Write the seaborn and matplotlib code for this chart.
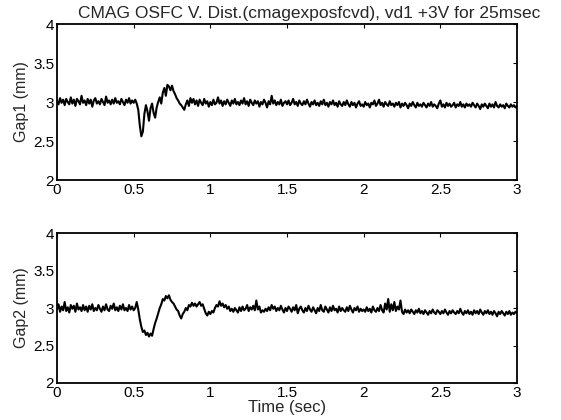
import numpy as np
import pandas as pd
import matplotlib
matplotlib.use("Agg")
import matplotlib.pyplot as plt
import seaborn as sns

time = np.linspace(0.0, 3.0, 301)

gap1 = [
    3.02, 2.97, 3.05, 2.99, 3.03, 2.96, 3.04, 3.00, 2.97, 3.06,
    2.98, 3.03, 2.95, 3.04, 3.01, 2.97, 3.08, 2.99, 3.02, 2.96,
    3.04, 2.98, 3.03, 2.94, 3.02, 3.05, 2.98, 3.01, 2.97, 3.04,
    3.00, 2.96, 3.07, 2.99, 3.02, 2.97, 3.03, 2.98, 3.05, 2.99,
    3.01, 2.97, 3.04, 3.00, 2.96, 3.03, 2.99, 3.05, 2.98, 3.02,
    2.99, 3.03, 2.98, 2.90, 2.70, 2.56, 2.62, 2.85, 2.96, 2.88,
    2.76, 2.92, 2.98, 2.86, 2.80, 2.93, 3.00, 3.06, 2.98, 3.12,
    3.18, 3.08, 3.22, 3.20, 3.15, 3.21, 3.14, 3.10, 3.05, 3.02,
    2.98, 2.96, 2.93, 2.90, 2.97, 3.02, 2.95, 3.05, 2.99, 3.04,
    2.97, 3.02, 2.95, 3.03, 2.99, 2.96, 3.04, 2.98, 3.01, 2.94,
    3.00, 2.96, 3.03, 2.97, 2.99, 3.06, 2.98, 3.02, 2.95, 3.01,
    2.97, 3.03, 2.99, 2.95, 3.02, 2.98, 3.04, 2.97, 3.00, 2.96,
    3.02, 2.98, 3.05, 2.97, 3.01, 2.95, 3.03, 2.99, 2.96, 3.02,
    2.98, 3.01, 2.94, 3.00, 2.97, 3.03, 2.99, 2.93, 3.01, 2.97,
    3.08, 2.98, 3.02, 2.96, 3.00, 2.97, 3.03, 2.95, 2.99, 3.01,
    2.97, 3.02, 2.96, 2.99, 3.04, 2.97, 3.00, 2.95, 3.02, 2.98,
    2.96, 3.01, 2.97, 3.03, 2.98, 2.94, 3.00, 2.97, 3.02, 2.96,
    2.99, 2.95, 3.01, 2.97, 3.03, 2.96, 2.99, 2.94, 3.00, 2.97,
    3.02, 2.96, 2.99, 2.94, 3.01, 2.97, 2.95, 3.00, 2.96, 3.02,
    2.97, 2.94, 3.00, 2.96, 2.99, 2.93, 2.98, 3.01, 2.95, 2.97,
    2.94, 3.00, 2.96, 2.98, 2.93, 2.99, 2.97, 3.02, 2.95, 2.98,
    3.03, 2.96, 2.99, 2.94, 3.00, 2.97, 2.95, 3.01, 2.96, 2.98,
    2.94, 2.99, 2.96, 3.00, 2.93, 2.98, 2.95, 2.99, 2.96, 2.92,
    2.98, 2.95, 3.00, 2.96, 2.93, 2.99, 2.95, 2.97, 2.94, 2.99,
    2.96, 2.93, 2.98, 2.95, 3.00, 2.94, 2.97, 2.95, 2.92, 2.98,
    3.02, 2.94, 2.97, 2.93, 2.99, 2.95, 2.98, 2.94, 2.96, 2.99,
    2.93, 2.97, 2.95, 3.00, 2.94, 2.97, 2.93, 2.98, 2.95, 2.97,
    2.94, 2.99, 2.96, 2.93, 2.98, 2.95, 2.91, 2.97, 2.94, 2.98,
    2.95, 2.92, 2.98, 2.94, 2.97, 2.93, 3.00, 2.95, 2.93, 2.97,
    2.94, 2.96, 2.92, 2.98, 2.95, 2.93, 2.97, 2.94, 2.96, 2.93,
    2.95,
]

gap2 = [
    2.98, 3.05, 2.95, 3.02, 2.97, 3.08, 2.96, 3.01, 2.94, 3.04,
    2.99, 3.03, 2.95, 3.06, 2.98, 3.01, 2.96, 3.04, 2.97, 3.02,
    2.95, 3.03, 2.98, 3.05, 2.96, 3.00, 2.97, 3.04, 2.99, 2.95,
    3.02, 2.97, 3.05, 2.98, 2.96, 3.03, 2.99, 3.06, 2.97, 3.01,
    2.96, 3.03, 2.98, 3.05, 2.97, 3.00, 2.96, 3.04, 2.98, 3.02,
    2.97, 3.00, 3.08, 2.98, 2.85, 2.75, 2.68, 2.70, 2.64, 2.67,
    2.62, 2.66, 2.63, 2.72, 2.80, 2.86, 2.93, 3.00, 3.05, 3.12,
    3.10, 3.16, 3.13, 3.17, 3.11, 3.08, 3.06, 3.02, 2.98, 2.96,
    2.90, 2.86, 2.92, 2.95, 3.00, 2.97, 3.04, 3.02, 3.07, 3.03,
    3.06, 3.02, 3.05, 3.08, 3.03, 3.05, 2.99, 2.93, 2.90, 2.95,
    2.92, 2.96, 2.94, 3.00, 3.04, 3.02, 3.09, 3.03, 3.06, 3.01,
    3.04, 2.99, 3.02, 2.96, 2.99, 2.95, 3.00, 2.97, 2.94, 3.01,
    2.96, 3.02, 2.97, 2.99, 3.04, 2.96, 3.01, 2.98, 3.03, 2.97,
    3.10, 2.98, 3.02, 2.94, 2.97, 2.95, 2.99, 2.96, 3.01, 2.97,
    3.04, 2.99, 3.02, 2.96, 3.00, 2.97, 3.03, 2.98, 2.94, 3.00,
    2.96, 3.02, 2.99, 2.95, 3.01, 2.97, 3.04, 2.93, 2.99, 3.02,
    2.97, 2.94, 3.00, 2.96, 3.03, 2.98, 2.95, 3.01, 2.97, 2.93,
    3.00, 2.96, 3.04, 2.97, 2.95, 3.02, 2.98, 2.94, 3.01, 2.96,
    3.03, 2.97, 2.99, 2.94, 3.02, 2.96, 3.00, 2.97, 2.95, 3.01,
    2.96, 3.03, 2.98, 2.94, 3.00, 2.97, 3.02, 2.95, 2.99, 2.96,
    2.98, 2.95, 3.01, 2.96, 2.99, 2.94, 3.02, 2.97, 2.95, 3.00,
    2.96, 3.04, 2.97, 2.94, 3.06, 2.98, 3.12, 2.95, 3.05, 2.97,
    3.08, 2.96, 3.02, 2.98, 3.10, 2.95, 2.92, 2.98, 2.94, 2.97,
    2.93, 2.98, 2.95, 2.92, 2.97, 2.94, 2.99, 2.93, 2.96, 2.92,
    2.97, 2.94, 2.91, 2.96, 2.93, 2.98, 2.94, 2.92, 2.97, 2.95,
    2.92, 2.96, 2.93, 2.98, 2.94, 2.91, 2.96, 2.93, 2.97, 2.94,
    2.92, 2.96, 2.93, 2.99, 2.94, 2.91, 2.96, 2.93, 2.97, 2.92,
    2.95, 2.91, 2.97, 2.93, 2.96, 2.92, 2.98, 2.94, 2.91, 2.96,
    2.93, 2.97, 2.92, 2.95, 2.91, 2.96, 2.93, 2.89, 2.95, 2.92,
    2.96, 2.93, 2.90, 2.95, 2.92, 2.96, 2.91, 2.94, 2.92, 2.95,
    2.93,
]

x_ticks = [0, 0.5, 1, 1.5, 2, 2.5, 3]
x_tick_labels = ["0", "0.5", "1", "1.5", "2", "2.5", "3"]
y_ticks = [2, 2.5, 3, 3.5, 4]
y_tick_labels = ["2", "2.5", "3", "3.5", "4"]

title_text = "CMAG OSFC V. Dist.(cmagexposfcvd), vd1 +3V for 25msec"
ylabel1 = "Gap1 (mm)"
ylabel2 = "Gap2 (mm)"
xlabel = "Time (sec)"

df = pd.DataFrame({"time": time, "gap1": gap1, "gap2": gap2})

sns.set_style("white")
plt.rcParams["font.family"] = ["Liberation Sans", "DejaVu Sans"]

fig = plt.figure(figsize=(5.61, 4.20), dpi=100)
ax1 = fig.add_axes([0.1016, 0.5714, 0.82, 0.3714])
ax2 = fig.add_axes([0.1016, 0.0881, 0.82, 0.357])

for ax, col, lab in [(ax1, "gap1", ylabel1), (ax2, "gap2", ylabel2)]:
    sns.lineplot(data=df, x="time", y=col, ax=ax, color="black", linewidth=1.5)
    ax.set_xlim(0, 3)
    ax.set_ylim(2, 4)
    ax.set_xticks(x_ticks)
    ax.set_xticklabels(x_tick_labels)
    ax.set_yticks(y_ticks)
    ax.set_yticklabels(y_tick_labels)
    ax.set_ylabel(lab, fontsize=11.5, labelpad=3)
    ax.set_xlabel("")
    ax.tick_params(direction="in", length=3, width=0.8, top=True, right=True,
                   labelsize=11, colors="black", pad=2)
    for s in ax.spines.values():
        s.set_color("black")
        s.set_linewidth(1.3)

ax2.set_xlabel(xlabel, fontsize=12, labelpad=0)
fig.text(0.551, 0.968, title_text, ha="center", va="center", fontsize=12.5)

fig.savefig("out.png", dpi=100, facecolor="white")
